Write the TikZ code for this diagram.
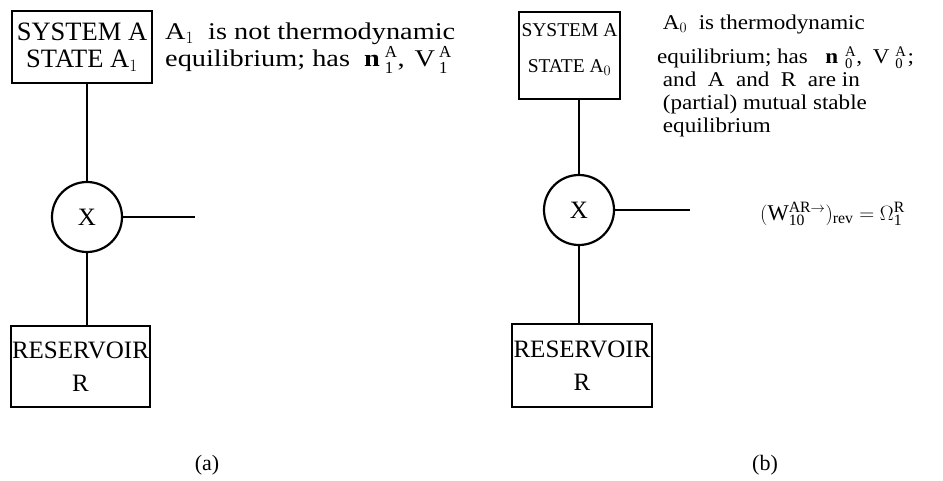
\documentclass[tikz,border=0pt]{standalone}
\usepackage{fontspec}
\setmainfont{Liberation Serif}
\newfontfamily\descfontA[FakeStretch=1.18]{Liberation Serif}
\newfontfamily\descfontB[FakeStretch=1.1]{Liberation Serif}
\newcommand{\scr}[2]{$^{\mathrm{#1}}_{\mathrm{#2}}$}
\tikzset{
  lbl/.style={draw=none, inner sep=0pt, align=center},
  sbox/.style={draw, line width=1.7pt, inner sep=0pt, align=center},
  xcirc/.style={draw, circle, line width=2.2pt, inner sep=0pt, minimum size=70pt},
  conn/.style={line width=1.7pt},
  desc/.style={inner sep=0pt, anchor=north west, align=left},
}
\begin{document}
\begin{tikzpicture}[x=1pt,y=-1pt]
\useasboundingbox (0,0) rectangle (943,481);
% ---------- panel (a)
\node[sbox, minimum width=140pt, minimum height=72pt, font=\fontsize{26.5}{27}\selectfont] (sysA) at (82,47) {SYSTEM A\\STATE A$_1$};
\node[xcirc, font=\fontsize{25}{25}\selectfont] (xA) at (87,217) {X};
\coordinate (endA) at (195,217);
\node[sbox, minimum width=139pt, minimum height=81pt, font=\fontsize{25}{33}\selectfont] (resA) at (80.5,366.5) {RESERVOIR\\R};
\draw[conn] (sysA.south -| xA) -- (xA.north);
\draw[conn] (xA.east) -- (endA);
\draw[conn] (xA.south) -- (resA.north -| xA);
\node[desc, font=\descfontA\fontsize{24}{27}\selectfont] (dA) at (165,23) {A$_1$\ \ is not thermodynamic\\equilibrium; has\ \ \textbf{n}\hspace{5pt}\scr{A}{1},\hspace{3pt} V\hspace{4pt}\scr{A}{1}};
\node[lbl, font=\fontsize{22}{22}\selectfont] (capA) at (207,465) {(a)};
% ---------- panel (b)
\node[sbox, minimum width=101pt, minimum height=87pt, font=\fontsize{19.5}{36}\selectfont] (sysB) at (569.5,55.5) {SYSTEM A\\STATE A$_0$\rule[-15pt]{0pt}{0pt}};
\node[xcirc, font=\fontsize{25}{25}\selectfont] (xB) at (579,210) {X};
\coordinate (endB) at (690,210);
\node[sbox, minimum width=140pt, minimum height=83pt, font=\fontsize{25}{33}\selectfont] (resB) at (582,365.5) {RESERVOIR\\R};
\draw[conn] (sysB.south -| xB) -- (xB.north);
\draw[conn] (xB.east) -- (endB);
\draw[conn] (xB.south) -- (resB.north -| xB);
\node[desc, font=\descfontB\fontsize{21}{23}\selectfont] (dB) at (657,15) {\ A$_0$\ \ is thermodynamic\\[11pt]equilibrium; has\ \ \ \textbf{n}\hspace{7pt}\scr{A}{0},\hspace{5pt} V\hspace{6pt}\scr{A}{0}\hspace{1pt};\\\ and\ \ A\ \ and\ \ R\ \ are in\\\ (partial) mutual stable\\\ equilibrium};
\node[lbl, anchor=west, font=\fontsize{22.5}{22}\selectfont] (fB) at (760,214) {$(\mathrm{W}^{\mathrm{AR}\rightarrow}_{\mathrm{10}})_{\mathrm{rev}} = \Omega^{\mathrm{R}}_{\mathrm{1}}$};
\node[lbl, font=\fontsize{22}{22}\selectfont] (capB) at (765,465) {(b)};
\end{tikzpicture}
\end{document}
